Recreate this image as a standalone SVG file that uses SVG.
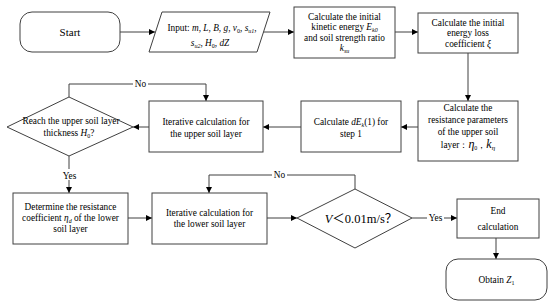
<svg xmlns="http://www.w3.org/2000/svg" width="550" height="306" viewBox="0 0 550 306" font-family="'Liberation Serif', 'Times New Roman', serif">
<defs>
<marker id="ah" viewBox="0 0 10 10" refX="10" refY="5" markerWidth="6" markerHeight="6" markerUnits="userSpaceOnUse" orient="auto">
<path d="M0,0 L10,5 L0,10 z" fill="#000"/>
</marker>
<style>
.s{fill:#fff;stroke:#404040;stroke-width:1}
.c{fill:none;stroke:#404040;stroke-width:1;marker-end:url(#ah)}
text{font-family:'Liberation Serif','Times New Roman',serif;font-size:9.3px;fill:#000;text-anchor:middle}
.i{font-style:italic}
.lb{fill:#fff;stroke:none}
.sub{font-size:6px}
</style>
</defs>
<rect width="550" height="306" fill="#fff"/>
<g id="connectors">
<line class="c" x1="120" y1="32" x2="155" y2="32"/>
<line class="c" x1="263" y1="32" x2="294" y2="32"/>
<line class="c" x1="395" y1="32" x2="418" y2="32"/>
<line class="c" x1="468" y1="53" x2="468" y2="101"/>
<line class="c" x1="418" y1="127" x2="401" y2="127"/>
<line class="c" x1="301" y1="127" x2="263" y2="127"/>
<line class="c" x1="149" y1="127" x2="133" y2="127"/>
<polyline class="c" points="69,97 69,84 206,84 206,101"/>
<line class="c" x1="69" y1="156" x2="69" y2="193"/>
<line class="c" x1="128" y1="218" x2="152" y2="218"/>
<line class="c" x1="267" y1="218" x2="297" y2="218"/>
<polyline class="c" points="355,189 355,175 209,175 209,193"/>
<line class="c" x1="412" y1="218" x2="457" y2="218"/>
<line class="c" x1="496" y1="238" x2="496" y2="259"/>
<rect class="lb" x="133" y="79" width="15" height="10"/>
<text x="140.5" y="87.3">No</text>
<rect class="lb" x="61" y="169" width="17" height="11"/>
<text x="69.5" y="178.5">Yes</text>
<rect class="lb" x="272" y="170" width="15" height="10"/>
<text x="279.5" y="178.3">No</text>
<rect class="lb" x="427" y="213" width="17" height="10"/>
<text x="435.5" y="221.3">Yes</text>
</g>
<g id="start">
<rect class="s" x="20" y="12" width="100" height="40" rx="12"/>
<text x="70" y="36" style="font-size:11px">Start</text>
</g>
<g id="input">
<polygon class="s" points="162,12 270,12 257,52 149,52"/>
<text x="212" y="30.5">Input: <tspan class="i">m</tspan>, <tspan class="i">L</tspan>, <tspan class="i">B</tspan>, <tspan class="i">g</tspan>, <tspan class="i">v</tspan><tspan class="sub" dy="2">0</tspan><tspan dy="-2">, </tspan><tspan class="i">s</tspan><tspan class="i sub" dy="2">u1</tspan><tspan dy="-2">,</tspan></text>
<text x="210" y="45.5"><tspan class="i">s</tspan><tspan class="i sub" dy="2">u2</tspan><tspan dy="-2">, </tspan><tspan class="i">H</tspan><tspan class="sub" dy="2">0</tspan><tspan dy="-2">, </tspan><tspan class="i">dZ</tspan></text>
</g>
<g id="initial-kinetic">
<rect class="s" x="294" y="7" width="101" height="51"/>
<text x="344.5" y="19.5">Calculate the initial</text>
<text x="344.5" y="30">kinetic energy <tspan class="i">E</tspan><tspan class="i sub" dy="2">k0</tspan></text>
<text x="344.5" y="40.5">and soil strength ratio</text>
<text x="344.5" y="51"><tspan class="i">k</tspan><tspan class="i sub" dy="2">su</tspan></text>
</g>
<g id="energy-loss">
<rect class="s" x="418" y="13" width="100" height="40"/>
<text x="468" y="25.5">Calculate the initial</text>
<text x="468" y="36">energy loss</text>
<text x="468" y="47">coefficient <tspan class="i">ξ</tspan></text>
</g>
<g id="resistance-upper">
<rect class="s" x="418" y="101" width="100" height="60"/>
<text x="468" y="110.5">Calculate the</text>
<text x="468" y="122.5">resistance parameters</text>
<text x="468" y="134.5">of the upper soil</text>
<text x="468" y="148">layer：<tspan class="i" style="font-size:12px">η</tspan><tspan class="sub" dy="2">0</tspan><tspan dy="-2">，</tspan><tspan class="i" style="font-size:12px">k</tspan><tspan class="i" style="font-size:7px" dy="2">η</tspan></text>
</g>
<g id="dek">
<rect class="s" x="301" y="101" width="100" height="51"/>
<text x="351" y="125">Calculate <tspan class="i">dE</tspan><tspan class="i sub" dy="2">k</tspan><tspan dy="-2">(1) for</tspan></text>
<text x="351" y="137">step 1</text>
</g>
<g id="iter-upper">
<rect class="s" x="149" y="101" width="114" height="51"/>
<text x="206" y="125">Iterative calculation for</text>
<text x="206" y="137">the upper soil layer</text>
</g>
<g id="reach-upper">
<polygon class="s" points="7,127 69,97 133,127 69,156"/>
<text x="71" y="123.5">Reach the upper soil layer</text>
<text x="69" y="135.5">thickness <tspan class="i">H</tspan><tspan class="sub" dy="2">0</tspan><tspan dy="-2">?</tspan></text>
</g>
<g id="resistance-lower">
<rect class="s" x="13" y="193" width="115" height="51"/>
<text x="70.5" y="210">Determine the resistance</text>
<text x="70.5" y="221">coefficient <tspan class="i">η</tspan><tspan class="i sub" dy="2">d</tspan><tspan dy="-2"> of the lower</tspan></text>
<text x="70.5" y="232">soil layer</text>
</g>
<g id="iter-lower">
<rect class="s" x="152" y="193" width="115" height="51"/>
<text x="209.5" y="216">Iterative calculation for</text>
<text x="209.5" y="227">the lower soil layer</text>
</g>
<g id="velocity-check">
<polygon class="s" points="297,218 355,189 412,218 355,248"/>
<text x="361" y="222.5" style="font-size:12.5px;font-family:'Liberation Serif','Noto Sans CJK SC',serif"><tspan class="i">V</tspan>＜0.01m/s？</text>
</g>
<g id="end">
<rect class="s" x="457" y="199" width="82" height="39"/>
<text x="498" y="213.5">End</text>
<text x="498" y="230">calculation</text>
</g>
<g id="obtain">
<rect class="s" x="446" y="259" width="101" height="41" rx="12"/>
<text x="496.5" y="282.5">Obtain <tspan class="i">Z</tspan><tspan class="sub" dy="2">1</tspan></text>
</g>
</svg>
